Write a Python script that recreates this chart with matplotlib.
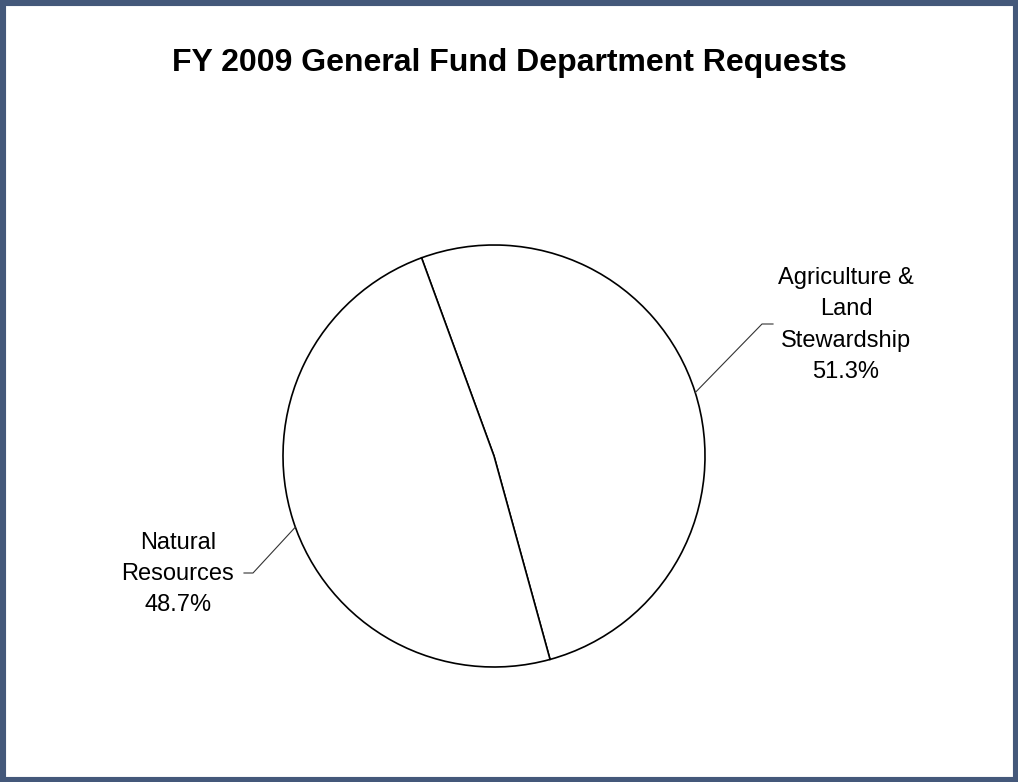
import numpy as np
import matplotlib
matplotlib.use('Agg')
import matplotlib.pyplot as plt
from matplotlib.patches import Rectangle

plt.rcParams['font.family'] = ['Liberation Sans', 'DejaVu Sans']

title = 'FY 2009 General Fund Department Requests'
departments = ['Agriculture &\nLand\nStewardship', 'Natural\nResources']
shares = [51.3, 48.7]

W, H = 1018, 782
fig = plt.figure(figsize=(W / 100, H / 100), dpi=100)
ax = fig.add_axes([0, 0, 1, 1])

# pie in pixel coords (y up)
cx, cy, r = 494, H - 456, 211
wedges, _ = ax.pie(shares, startangle=-74.6, counterclock=True,
                   center=(cx, cy), radius=r, frame=True,
                   colors=['white', 'white'],
                   wedgeprops=dict(edgecolor='black', linewidth=1.2))
ax.set_xlim(0, W)
ax.set_ylim(0, H)
ax.set_aspect('equal')
ax.axis('off')

# label text position, leader elbow, leader end, angle on edge
label_pos = [(846, 325), (178, 574)]
elbows = [(762, 324), (253, 573)]
ends = [(773, 324), (244, 573)]
edge_ang = [17.5, 199.7]

for name, val, (tx, ty), (ex, ey), (sx, sy), a in zip(departments, shares, label_pos, elbows, ends, edge_ang):
    px = cx + r * np.cos(np.radians(a))
    py = cy + r * np.sin(np.radians(a))
    ax.plot([px, ex, sx], [py, H - ey, H - sy], color='#333333', lw=0.8)
    txt = name + '\n' + f'{val:.1f}%'
    ax.text(tx, H - ty, txt, ha='center', va='center',
            fontsize=17, linespacing=1.55, color='black')

fig.text(0.5, 1 - 63 / H, title, ha='center', va='center',
         fontsize=23, fontweight='bold', color='black')

fig.patches.append(Rectangle((0, 0), 1, 1, transform=fig.transFigure,
                             fill=False, edgecolor='#44587a', linewidth=8))

fig.savefig('out.png', dpi=100, facecolor='white')
